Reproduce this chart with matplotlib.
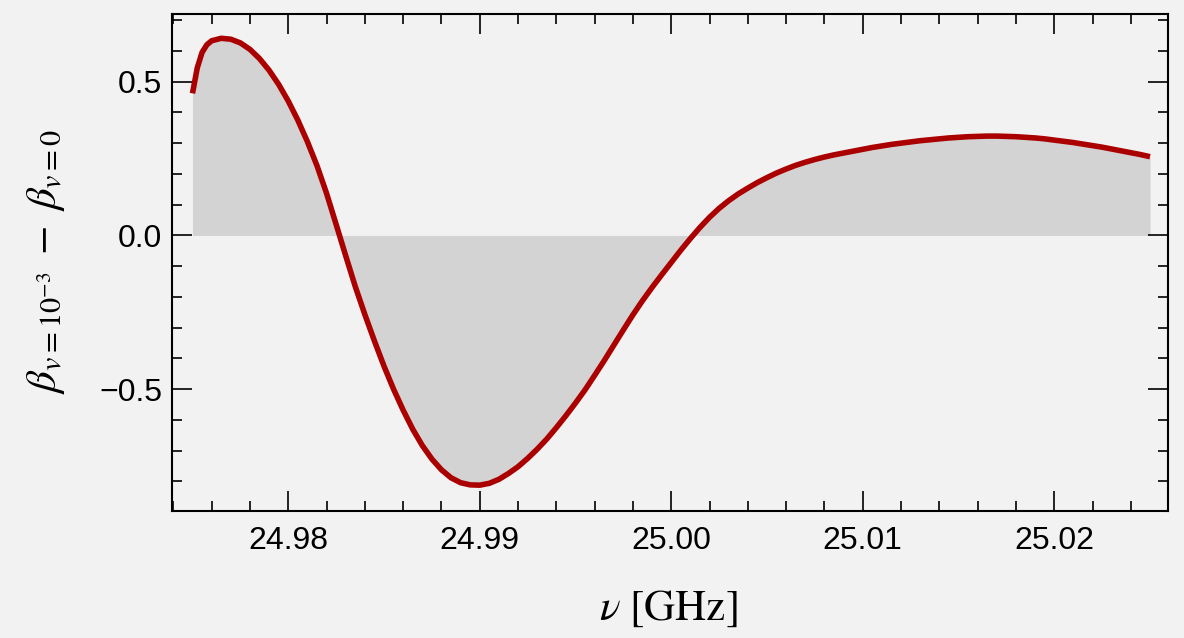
import matplotlib
matplotlib.use("Agg")
import matplotlib.pyplot as plt
from matplotlib.ticker import MultipleLocator, FuncFormatter

# Frequency samples [GHz]
freq_ghz = [
    24.9750, 24.97525, 24.9755, 24.97575, 24.9760, 24.9765, 24.9770, 24.9775, 24.9780, 24.9785,
    24.9790, 24.9795, 24.9800, 24.9805, 24.9810, 24.9815, 24.9820, 24.9825,
    24.9830, 24.9835, 24.9840, 24.9845, 24.9850, 24.9855, 24.9860, 24.9865,
    24.9870, 24.9875, 24.9880, 24.9885, 24.9890, 24.9895, 24.9900, 24.9905,
    24.9910, 24.9915, 24.9920, 24.9925, 24.9930, 24.9935, 24.9940, 24.9945,
    24.9950, 24.9955, 24.9960, 24.9965, 24.9970, 24.9975, 24.9980, 24.9985,
    24.9990, 24.9995, 25.0000, 25.0005, 25.0010, 25.0015, 25.0020, 25.0025,
    25.0030, 25.0035, 25.0040, 25.0045, 25.0050, 25.0055, 25.0060, 25.0065,
    25.0070, 25.0075, 25.0080, 25.0085, 25.0090, 25.0095, 25.0100, 25.0105,
    25.0110, 25.0115, 25.0120, 25.0125, 25.0130, 25.0135, 25.0140, 25.0145,
    25.0150, 25.0155, 25.0160, 25.0165, 25.0170, 25.0175, 25.0180, 25.0185,
    25.0190, 25.0195, 25.0200, 25.0205, 25.0210, 25.0215, 25.0220, 25.0225,
    25.0230, 25.0235, 25.0240, 25.0245, 25.0250,
]

# beta_{v=1e-3} - beta_{v=0}
delta_beta = [
    0.462, 0.545, 0.595, 0.620, 0.633, 0.641, 0.638, 0.626, 0.605, 0.575,
    0.537, 0.491, 0.437, 0.375, 0.305, 0.227, 0.137, 0.036,
    -0.066, -0.166, -0.257, -0.343, -0.425, -0.500, -0.568, -0.630,
    -0.683, -0.727, -0.762, -0.788, -0.804, -0.811, -0.812, -0.806,
    -0.793, -0.774, -0.752, -0.725, -0.695, -0.662, -0.625, -0.586,
    -0.545, -0.502, -0.455, -0.407, -0.357, -0.307, -0.258, -0.212,
    -0.169, -0.128, -0.088, -0.048, -0.010, 0.026, 0.059, 0.088,
    0.113, 0.135, 0.154, 0.172, 0.188, 0.203, 0.216, 0.228,
    0.238, 0.247, 0.255, 0.262, 0.268, 0.274, 0.280, 0.286,
    0.291, 0.296, 0.300, 0.304, 0.308, 0.311, 0.314, 0.317,
    0.319, 0.321, 0.322, 0.323, 0.323, 0.322, 0.321, 0.319,
    0.317, 0.314, 0.310, 0.306, 0.302, 0.297, 0.292, 0.287,
    0.281, 0.275, 0.269, 0.263, 0.256,
]

x_ticks = [24.98, 24.99, 25.00, 25.01, 25.02]
y_ticks = [-0.5, 0.0, 0.5]

BG = "#f2f2f2"
plt.rcParams["mathtext.fontset"] = "stix"

fig = plt.figure(figsize=(11.84, 6.38), dpi=100, facecolor=BG)
ax = fig.add_axes([172 / 1184, 1 - 511 / 638, (1168 - 172) / 1184, (511 - 14) / 638])
ax.set_facecolor(BG)

ax.fill_between(freq_ghz, 0, delta_beta, color="#d3d3d3", linewidth=0, zorder=1)
ax.plot(freq_ghz, delta_beta, color="#aa0000", linewidth=4.0,
        solid_capstyle="butt", solid_joinstyle="round", zorder=3)

ax.set_xlim(24.97393, 25.02594)
ax.set_ylim(-0.896, 0.720)

ax.set_xticks(x_ticks)
ax.set_yticks(y_ticks)
ax.xaxis.set_minor_locator(MultipleLocator(0.002))
ax.yaxis.set_minor_locator(MultipleLocator(0.1))
ax.xaxis.set_major_formatter(FuncFormatter(lambda v, p: f"{v:.2f}"))
ax.yaxis.set_major_formatter(
    FuncFormatter(lambda v, p: f"{v:.1f}".replace("-", "\u2212") if abs(v) > 1e-9 else "0.0"))

for sp in ax.spines.values():
    sp.set_linewidth(1.5)
    sp.set_color("black")

ax.tick_params(which="both", direction="in", top=True, right=True,
               colors="black", width=1.2)
ax.tick_params(which="major", length=14.4)
ax.tick_params(which="minor", length=7.2)
ax.tick_params(axis="x", which="major", pad=11)
ax.tick_params(axis="y", which="major", pad=7)
for lab in ax.get_xticklabels() + ax.get_yticklabels():
    lab.set_fontfamily("Liberation Sans")
    lab.set_fontsize(23)

fig.text(668 / 1184, 1 - 608 / 638, r"$\nu\ \left[\mathrm{GHz}\right]$", ha="center",
         va="center", fontsize=31)
fig.text(46 / 1184, 1 - 262 / 638, r"$\beta_{v=10^{-3}}\;-\;\beta_{v=0}$",
         ha="center", va="center", rotation=90, fontsize=31)

fig.savefig("out.png", dpi=100, facecolor=BG)
